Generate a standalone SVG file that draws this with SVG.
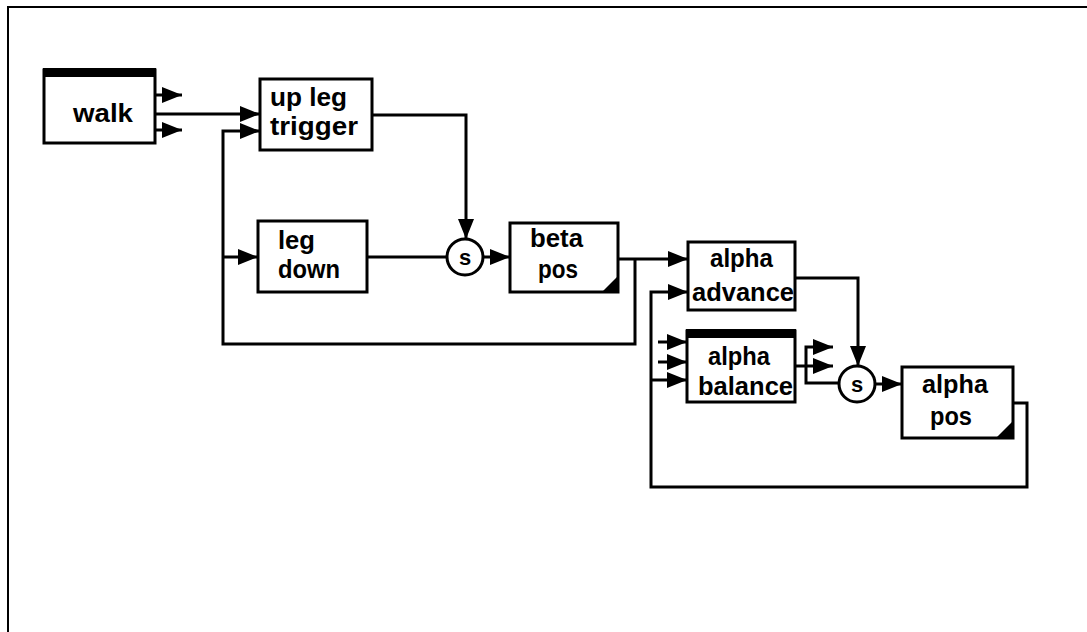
<svg xmlns="http://www.w3.org/2000/svg" width="1087" height="632" viewBox="0 0 1087 632">
<style>
.box{fill:#fff;stroke:#000;stroke-width:3}
.bar{fill:#000}
.t{font-family:"Liberation Sans",Arial,sans-serif;font-weight:bold;font-size:26px;fill:#000}
.s{font-family:"Liberation Sans",Arial,sans-serif;font-weight:bold;font-size:22px;fill:#000}
.c{fill:none;stroke:#000;stroke-width:3}
.a{fill:none;stroke:#000;stroke-width:3;marker-end:url(#ah)}
</style>
<defs>
<marker id="ah" markerUnits="userSpaceOnUse" markerWidth="22" markerHeight="18" refX="20" refY="8" orient="auto" viewBox="0 0 22 18">
<path d="M0,0 L20,8 L0,16 z" fill="#000"/>
</marker>
</defs>
<rect x="0" y="0" width="1087" height="632" fill="#fff"/>
<rect x="8" y="7" width="1100" height="700" fill="none" stroke="#000" stroke-width="2"/>

<g id="connectors">
<path class="a" d="M155,114 H260"/>
<path class="a" d="M155,95 H182"/>
<path class="a" d="M155,130 H182"/>
<path class="a" d="M372,115 H466 V239"/>
<path class="a" d="M635,259 V344 H223 V131 H260"/>
<path class="a" d="M223,257 H258"/>
<path class="c" d="M367,257 H447"/>
<path class="a" d="M483,257 H510"/>
<path class="a" d="M618,259 H688"/>
<path class="a" d="M795,278 H858 V366"/>
<path class="a" d="M1013,403 H1027 V487 H651 V292 H688"/>
<path class="a" d="M651,380 H687"/>
<path class="a" d="M658,342 H687"/>
<path class="a" d="M658,362 H687"/>
<path class="a" d="M795,366 H833"/>
<path class="a" d="M839,383 H806 V347 H833"/>
<path class="a" d="M876,384 H902"/>
</g>

<g id="walk">
<rect class="box" x="44" y="70" width="111" height="73"/>
<rect class="bar" x="43" y="68" width="113" height="9"/>
<text class="t" x="73" y="122" textLength="60" lengthAdjust="spacingAndGlyphs">walk</text>
</g>

<g id="up-leg-trigger">
<rect class="box" x="260" y="79" width="112" height="71"/>
<text class="t" x="270" y="106" textLength="77" lengthAdjust="spacingAndGlyphs">up leg</text>
<text class="t" x="270" y="135" textLength="88" lengthAdjust="spacingAndGlyphs">trigger</text>
</g>

<g id="leg-down">
<rect class="box" x="258" y="221" width="109" height="71"/>
<text class="t" x="278" y="249" textLength="37" lengthAdjust="spacingAndGlyphs">leg</text>
<text class="t" x="278" y="278" textLength="62" lengthAdjust="spacingAndGlyphs">down</text>
</g>

<g id="sum1">
<circle cx="465" cy="257" r="18" fill="#fff" stroke="#000" stroke-width="3"/>
<text class="s" x="465" y="265" text-anchor="middle">s</text>
</g>

<g id="beta-pos">
<rect class="box" x="510" y="223" width="108" height="69"/>
<polygon points="602,292 618,292 618,276" fill="#000"/>
<text class="t" x="530" y="247" textLength="53" lengthAdjust="spacingAndGlyphs">beta</text>
<text class="t" x="538" y="278" textLength="40" lengthAdjust="spacingAndGlyphs">pos</text>
</g>

<g id="alpha-advance">
<rect class="box" x="688" y="242" width="107" height="68"/>
<text class="t" x="710" y="267" textLength="63" lengthAdjust="spacingAndGlyphs">alpha</text>
<text class="t" x="692" y="301" textLength="102" lengthAdjust="spacingAndGlyphs">advance</text>
</g>

<g id="alpha-balance">
<rect class="box" x="687" y="331" width="108" height="71"/>
<rect class="bar" x="686" y="329" width="110" height="9"/>
<text class="t" x="708" y="365" textLength="62" lengthAdjust="spacingAndGlyphs">alpha</text>
<text class="t" x="698" y="395" textLength="95" lengthAdjust="spacingAndGlyphs">balance</text>
</g>

<g id="sum2">
<circle cx="857" cy="384" r="18" fill="#fff" stroke="#000" stroke-width="3"/>
<text class="s" x="857" y="392" text-anchor="middle">s</text>
</g>

<g id="alpha-pos">
<rect class="box" x="902" y="367" width="111" height="71"/>
<polygon points="996,438 1013,438 1013,421" fill="#000"/>
<text class="t" x="922" y="393" textLength="66" lengthAdjust="spacingAndGlyphs">alpha</text>
<text class="t" x="930" y="425" textLength="42" lengthAdjust="spacingAndGlyphs">pos</text>
</g>
</svg>
